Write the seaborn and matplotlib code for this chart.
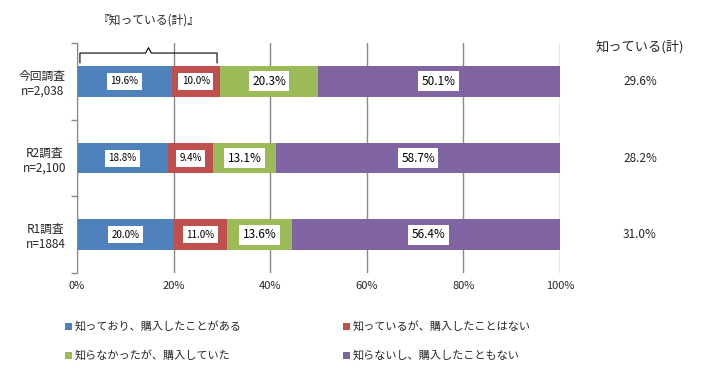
import numpy as np
import seaborn as sns
import matplotlib.pyplot as plt
from matplotlib.patches import Patch

sns.set_style("white")
plt.rcParams['font.family'] = ['Noto Sans CJK JP', 'DejaVu Sans']

surveys = ["今回調査\nn=2,038", "R2調査\nn=2,100", "R1調査\nn=1884"]
series_names = ["知っており、購入したことがある", "知っているが、購入したことはない",
                "知らなかったが、購入していた", "知らないし、購入したこともない"]
bought_known = [19.6, 18.8, 20.0]
known_not_bought = [10.0, 9.4, 11.0]
bought_unknown = [20.3, 13.1, 13.6]
not_known = [50.1, 58.7, 56.4]
known_total = ["29.6%", "28.2%", "31.0%"]
colors = ["#4F81BD", "#C0504D", "#9BBB59", "#8064A2"]

series = [bought_known, known_not_bought, bought_unknown, not_known]
cums = np.cumsum(np.array(series), axis=0)

fig = plt.figure(figsize=(7.1, 3.8), dpi=100)
ax = fig.add_axes([0.1085, 0.2816, 0.680, 0.605])

# stacked bars: draw cumulative totals from the longest down
for i in range(3, -1, -1):
    sns.barplot(x=cums[i], y=surveys, color=colors[i], width=0.4, orient='h',
                saturation=1, linewidth=0, ax=ax)

# segment labels
for i in range(4):
    for j in range(3):
        left = cums[i][j] - series[i][j]
        fs = 7 if i < 2 else 8.5
        ax.text(left + series[i][j] / 2, j, "{:.1f}%".format(series[i][j]),
                ha='center', va='center', fontsize=fs, color='black',
                bbox=dict(facecolor='white', edgecolor='none', pad=2.5))

ax.set_xlim(0, 100)
ax.set_ylim(2.5, -0.5)
ax.set_xticks([0, 20, 40, 60, 80, 100])
ax.set_xticklabels(["0%", "20%", "40%", "60%", "80%", "100%"], fontsize=8)
ax.set_yticks([0, 1, 2])
ax.set_yticklabels(surveys, fontsize=8.5, multialignment='center')
ax.set_yticks([-0.5, 0.5, 1.5, 2.5], minor=True)
ax.tick_params(axis='y', which='major', length=0, pad=8)
ax.tick_params(axis='y', which='minor', length=4, color='#888888', width=1, direction='out', left=True)
ax.tick_params(axis='x', length=0, pad=6)
ax.set_xlabel("")
ax.set_ylabel("")
for s in ['top', 'right', 'bottom']:
    ax.spines[s].set_visible(False)
ax.spines['left'].set_color('#888888')
ax.grid(axis='x', color='#888888', linewidth=1)
ax.set_axisbelow(True)

# bracket over the first bar
bx0, bx1 = 0.6, 29.0
bmid = (bx0 + bx1) / 2
ax.plot([bx0, bx0, bmid - 0.6, bmid, bmid + 0.6, bx1, bx1],
        [-0.24, -0.37, -0.37, -0.44, -0.37, -0.37, -0.24],
        color='black', linewidth=0.8, clip_on=False)
ax.text(bmid, -0.80, "『知っている(計)』", ha='center', va='center', fontsize=8.5)

# right column: known total
ax.text(1.166, -0.45, "知っている(計)", transform=ax.get_yaxis_transform(),
        ha='center', va='center', fontsize=9.5)
for j in range(3):
    ax.text(1.166, j, known_total[j], transform=ax.get_yaxis_transform(),
            ha='center', va='center', fontsize=8.5)

handles = [Patch(facecolor=c, edgecolor='none') for c in colors]
order = [0, 2, 1, 3]
fig.legend([handles[k] for k in order], [series_names[k] for k in order],
           loc='upper left', bbox_to_anchor=(0.078, 0.18), ncol=2, frameon=False,
           fontsize=8, handlelength=0.6, handleheight=0.6, handletextpad=0.2,
           columnspacing=9.2, labelspacing=1.6)

fig.savefig("out.png", dpi=100)
